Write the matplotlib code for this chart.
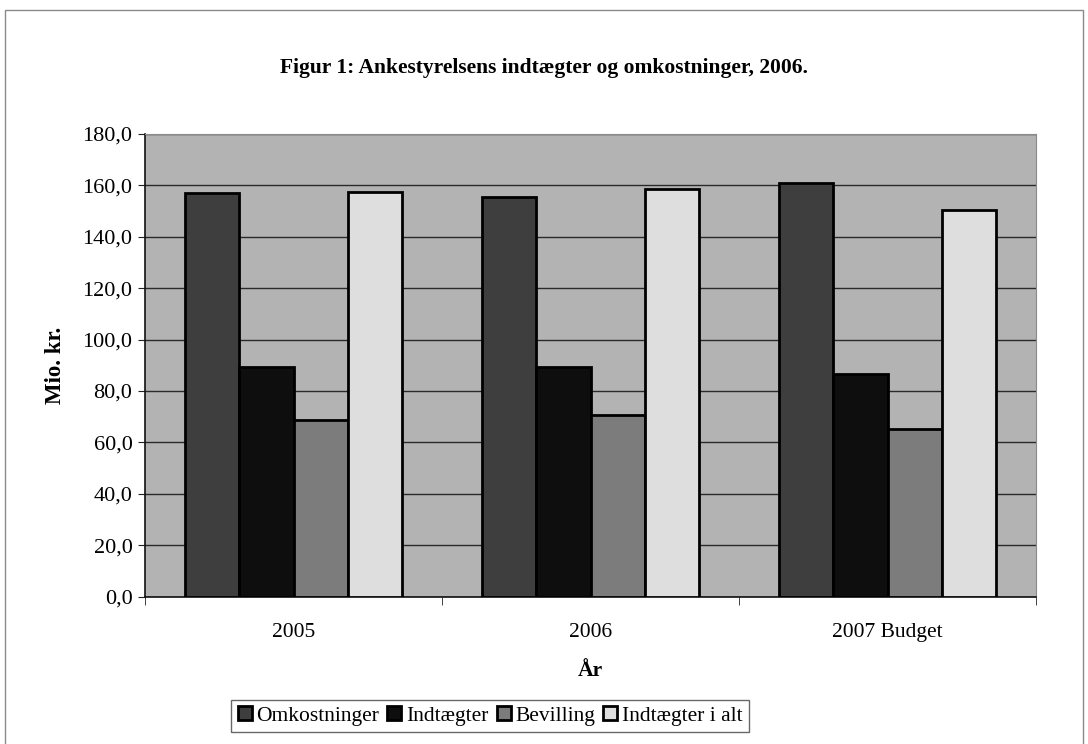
import numpy as np
import matplotlib.pyplot as plt
from matplotlib.ticker import FuncFormatter
from matplotlib.patches import Rectangle

years = ["2005", "2006", "2007 Budget"]
series = ["Omkostninger", "Indtægter", "Bevilling", "Indtægter i alt"]
omkostninger = [157.0, 155.4, 160.8]
indtaegter = [89.2, 89.5, 86.6]
bevilling = [68.7, 70.5, 65.1]
indtaegter_i_alt = [157.3, 158.6, 150.4]
values = [omkostninger, indtaegter, bevilling, indtaegter_i_alt]
colors = ["#3e3e3e", "#0e0e0e", "#7c7c7c", "#dedede"]

plt.rcParams['font.family'] = ['Liberation Serif', 'DejaVu Serif']

fig = plt.figure(figsize=(10.88, 7.44), dpi=100)
fig.patch.set_facecolor('white')

# outer chart border
fig.patches.append(Rectangle((5/1088, -0.01), 1078/1088, 1 - 10/744 + 0.01,
                             transform=fig.transFigure, fill=False,
                             edgecolor='#8a8a8a', lw=1))

ax = fig.add_axes([145/1088, 1 - 596.5/744, 891/1088, 462.5/744])
ax.set_facecolor('#b3b3b3')

x = np.arange(len(years))
w = 0.182
for i, (name, vals, c) in enumerate(zip(series, values, colors)):
    ax.bar(x + (i - 1.5) * w, vals, width=w, color=c, edgecolor='black',
           lw=2, label=name, zorder=3)

ax.set_xlim(-0.5, 2.5)
ax.set_ylim(0, 180)
ax.set_yticks(np.arange(0, 181, 20))
ax.yaxis.set_major_formatter(FuncFormatter(lambda v, p: f"{v:.1f}".replace('.', ',')))
ax.grid(axis='y', color='#2a2a2a', lw=1, zorder=1)

ax.set_xticks(x)
ax.set_xticklabels(years)
ax.set_xticks([-0.5, 0.5, 1.5, 2.5], minor=True)
ax.tick_params(axis='x', which='major', length=0, pad=19, labelsize=15.5)
ax.tick_params(axis='x', which='minor', length=6, direction='out', color='#222')
ax.tick_params(axis='y', length=5, direction='out', labelsize=16, pad=4, color='#222')

for s in ['top', 'right']:
    ax.spines[s].set_color('#8a8a8a')
for s in ['left', 'bottom']:
    ax.spines[s].set_color('#111')
    ax.spines[s].set_linewidth(1.2)

ax.set_xlabel("År", fontsize=15.5, fontweight='bold', labelpad=14)
ax.set_ylabel("Mio. kr.", fontsize=16.5, fontweight='bold', labelpad=12)

fig.text(0.5, 1 - 68/744, "Figur 1: Ankestyrelsens indtægter og omkostninger, 2006.",
         ha='center', va='center', fontsize=15.5, fontweight='bold')

handles, labels = ax.get_legend_handles_labels()
leg = fig.legend(handles, labels, loc='center', bbox_to_anchor=(490/1088, 1 - 716/744),
                 ncol=4, fontsize=15.5, frameon=True, fancybox=False,
                 handlelength=0.65, handleheight=0.65, handletextpad=0.2,
                 columnspacing=0.4, borderpad=0.3, borderaxespad=0)
leg.get_frame().set_edgecolor('#444')
leg.get_frame().set_linewidth(1)

fig.savefig("out.png", dpi=100)
